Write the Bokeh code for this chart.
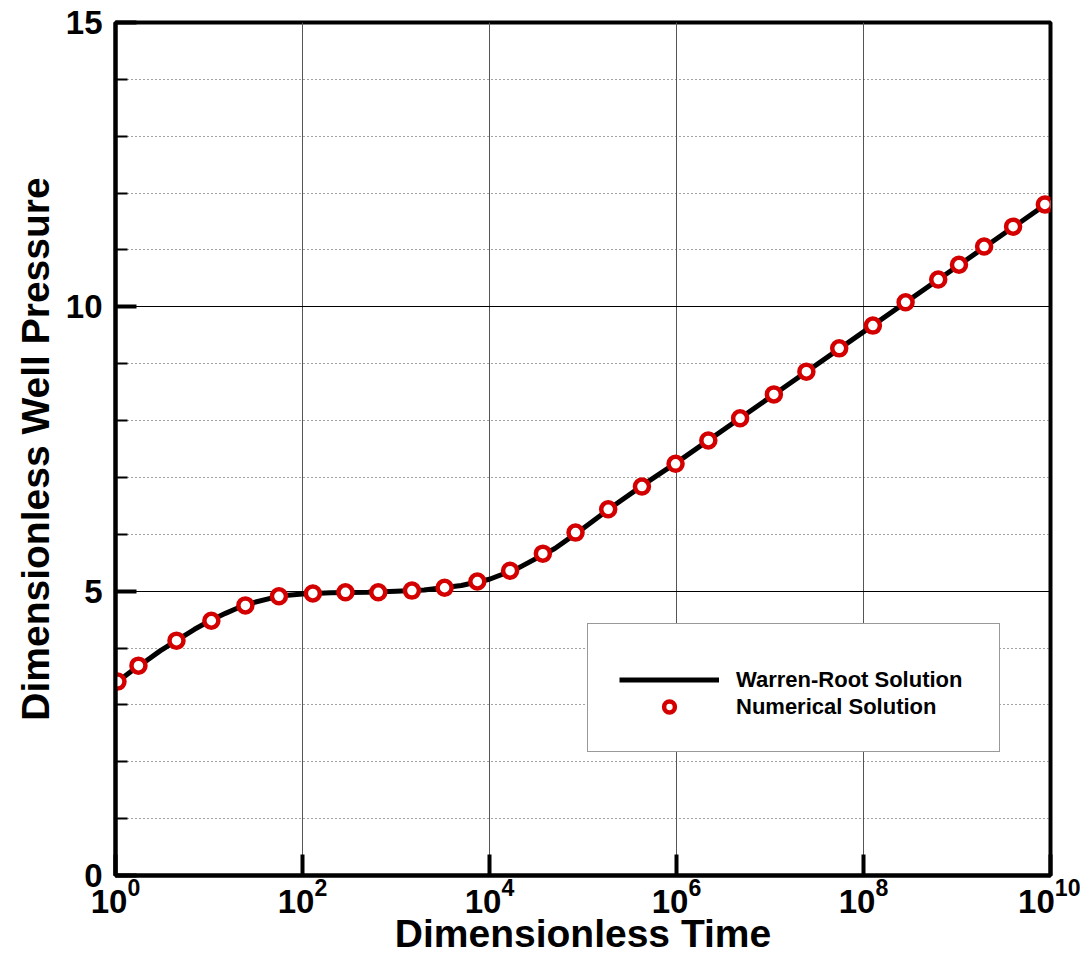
from bokeh.plotting import figure
from bokeh.models import FixedTicker, Legend, LegendItem
from bokeh.embed import file_html
from bokeh.resources import INLINE

# Numerical solution (markers)
num_time = [1.05, 1.76, 4.49, 10.6, 24.5, 56.0, 129.0, 288.0, 646.0, 1480.0,
            3310.0, 7410.0, 16600.0, 37200.0, 83200.0, 186000.0, 427000.0, 977000.0,
            2.19e6, 4.79e6, 1.10e7, 2.45e7, 5.50e7, 1.26e8, 2.82e8, 6.30e8,
            1.05e9, 1.95e9, 3.98e9, 8.70e9]
num_pwd = [3.41, 3.69, 4.13, 4.48, 4.75, 4.91, 4.96, 4.98, 4.98, 5.01,
           5.06, 5.17, 5.36, 5.66, 6.03, 6.44, 6.84, 7.24,
           7.65, 8.04, 8.46, 8.86, 9.27, 9.67, 10.08, 10.48,
           10.74, 11.06, 11.41, 11.80]

# Warren-Root analytical solution (line)
wr_time = [1.0, 1.5, 2.0, 3.0, 5.0, 7.0, 10.0, 15.0, 20.0, 30.0, 50.0, 70.0, 100.0,
           200.0, 500.0, 1000.0, 2000.0, 5000.0, 1e4, 2e4, 5e4, 1e5, 2e5, 5e5,
           1e6, 1e7, 1e8, 1e9, 1e10]
wr_pwd = [3.38, 3.60, 3.74, 3.95, 4.18, 4.33, 4.47, 4.61, 4.70, 4.80, 4.89, 4.93, 4.95,
          4.97, 4.98, 5.00, 5.02, 5.10, 5.21, 5.40, 5.75, 6.10, 6.47, 6.93,
          7.26, 8.41, 9.56, 10.71, 11.86]

x_ticks = [1, 1e2, 1e4, 1e6, 1e8, 1e10]
y_ticks = [0, 5, 10, 15]
y_minor = [1, 2, 3, 4, 6, 7, 8, 9, 11, 12, 13, 14]

FONT = "Liberation Sans"

p = figure(x_axis_type="log", x_range=(1, 1e10), y_range=(0, 15),
           frame_width=935, frame_height=853,
           min_border_left=115, min_border_top=22, min_border_right=30, min_border_bottom=75,
           output_backend="svg", toolbar_location=None,
           x_axis_label="Dimensionless Time", y_axis_label="Dimensionless Well Pressure")

p.outline_line_color = "black"
p.outline_line_width = 4
p.background_fill_color = "white"
p.border_fill_color = "white"

# ticks
p.xaxis.ticker = FixedTicker(ticks=x_ticks, minor_ticks=[])
p.yaxis.ticker = FixedTicker(ticks=y_ticks, minor_ticks=y_minor)

for ax in (p.xaxis, p.yaxis):
    ax.axis_line_width = 4
    ax.axis_line_color = "black"
    ax.major_tick_in = 21
    ax.major_tick_out = 0
    ax.major_tick_line_width = 4
    ax.minor_tick_in = 12
    ax.minor_tick_out = 0
    ax.minor_tick_line_width = 2
    ax.major_label_text_font = FONT
    ax.major_label_text_font_style = "bold"
    ax.major_label_text_font_size = "33px"
    ax.major_label_text_color = "black"
    ax.axis_label_text_font = FONT
    ax.axis_label_text_font_style = "bold"
    ax.axis_label_text_font_size = "39px"
    ax.axis_label_text_color = "black"

p.xaxis.major_label_standoff = 2
p.yaxis.major_label_standoff = 13
p.xaxis.axis_label_standoff = -4
p.yaxis.axis_label_standoff = 6

# grids
p.xgrid.grid_line_color = "#555555"
p.xgrid.grid_line_width = 1
p.ygrid.grid_line_color = "black"
p.ygrid.grid_line_width = 1
p.ygrid.minor_grid_line_color = "#444444"
p.ygrid.minor_grid_line_width = 1
p.ygrid.minor_grid_line_dash = "1 3"

line_r = p.line(wr_time, wr_pwd, line_color="black", line_width=5)
circ_r = p.scatter(num_time, num_pwd, marker="circle", size=14,
                   line_color="#d40000", line_width=4.5, fill_color="white")

legend = Legend(items=[LegendItem(label="Warren-Root Solution", renderers=[line_r]),
                       LegendItem(label="Numerical Solution", renderers=[circ_r])],
                location=(472, 123))
legend.title = " "
legend.title_text_font_size = "8px"
legend.title_standoff = 2
legend.label_text_font = FONT
legend.label_text_font_style = "bold"
legend.label_text_font_size = "22px"
legend.label_text_color = "black"
legend.glyph_width = 100
legend.glyph_height = 27
legend.label_height = 27
legend.label_width = 232
legend.label_standoff = 17
legend.spacing = 0
legend.padding = 31
legend.margin = 0
legend.border_line_color = "#333333"
legend.border_line_width = 1
legend.background_fill_alpha = 1.0
p.add_layout(legend)

open("out.html", "w").write(file_html(p, INLINE))
